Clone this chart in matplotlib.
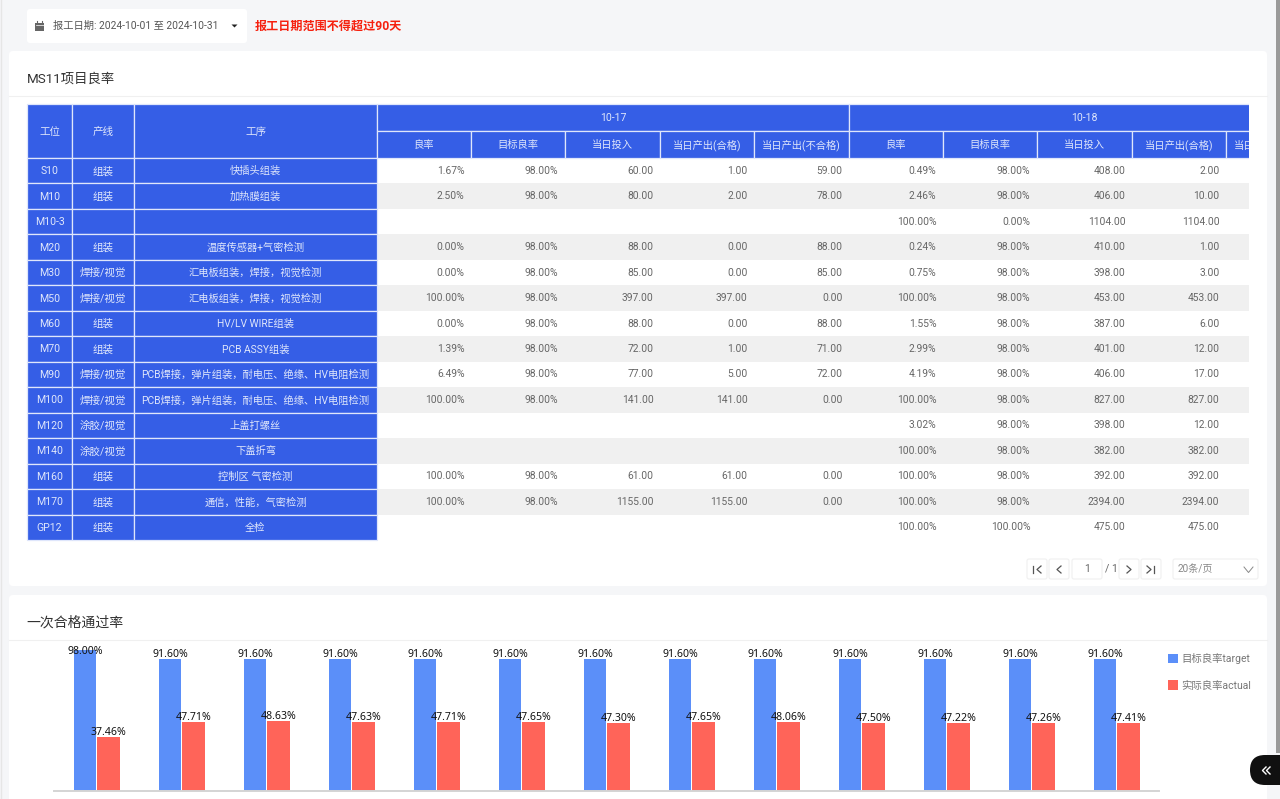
import matplotlib
matplotlib.use('Agg')
import matplotlib.pyplot as plt
from matplotlib.patches import Rectangle, FancyBboxPatch, Polygon
import numpy as np

plt.rcParams['font.family'] = ['Roboto', 'Noto Sans CJK SC', 'DejaVu Sans']

# 表格数据
gongwei = ['S10', 'M10', 'M10-3', 'M20', 'M30', 'M50', 'M60', 'M70', 'M90', 'M100', 'M120', 'M140', 'M160', 'M170', 'GP12']
chanxian = ['组装', '组装', '', '组装', '焊接/视觉', '焊接/视觉', '组装', '组装', '焊接/视觉', '焊接/视觉', '涂胶/视觉', '涂胶/视觉', '组装', '组装', '组装']
gongxu = ['快插头组装', '加热膜组装', '', '温度传感器+气密检测', '汇电板组装，焊接，视觉检测', '汇电板组装，焊接，视觉检测',
          'HV/LV WIRE组装', 'PCB ASSY组装', 'PCB焊接，弹片组装，耐电压、绝缘、HV电阻检测', 'PCB焊接，弹片组装，耐电压、绝缘、HV电阻检测',
          '上盖打螺丝', '下盖折弯', '控制区 气密检测', '通信，性能，气密检测', '全检']
sub_headers = ['良率', '目标良率', '当日投入', '当日产出(合格)', '当日产出(不合格)']

# 10-17
lv_17 = ['1.67%', '2.50%', '', '0.00%', '0.00%', '100.00%', '0.00%', '1.39%', '6.49%', '100.00%', '', '', '100.00%', '100.00%', '']
mb_17 = ['98.00%', '98.00%', '', '98.00%', '98.00%', '98.00%', '98.00%', '98.00%', '98.00%', '98.00%', '', '', '98.00%', '98.00%', '']
tr_17 = ['60.00', '80.00', '', '88.00', '85.00', '397.00', '88.00', '72.00', '77.00', '141.00', '', '', '61.00', '1155.00', '']
hg_17 = ['1.00', '2.00', '', '0.00', '0.00', '397.00', '0.00', '1.00', '5.00', '141.00', '', '', '61.00', '1155.00', '']
bhg_17 = ['59.00', '78.00', '', '88.00', '85.00', '0.00', '88.00', '71.00', '72.00', '0.00', '', '', '0.00', '0.00', '']
# 10-18
lv_18 = ['0.49%', '2.46%', '100.00%', '0.24%', '0.75%', '100.00%', '1.55%', '2.99%', '4.19%', '100.00%', '3.02%', '100.00%', '100.00%', '100.00%', '100.00%']
mb_18 = ['98.00%', '98.00%', '0.00%', '98.00%', '98.00%', '98.00%', '98.00%', '98.00%', '98.00%', '98.00%', '98.00%', '98.00%', '98.00%', '98.00%', '100.00%']
tr_18 = ['408.00', '406.00', '1104.00', '410.00', '398.00', '453.00', '387.00', '401.00', '406.00', '827.00', '398.00', '382.00', '392.00', '2394.00', '475.00']
hg_18 = ['2.00', '10.00', '1104.00', '1.00', '3.00', '453.00', '6.00', '12.00', '17.00', '827.00', '12.00', '382.00', '392.00', '2394.00', '475.00']

# 柱状图数据
target = [98.00, 91.60, 91.60, 91.60, 91.60, 91.60, 91.60, 91.60, 91.60, 91.60, 91.60, 91.60, 91.60]
actual = [37.46, 47.71, 48.63, 47.63, 47.71, 47.65, 47.30, 47.65, 48.06, 47.50, 47.22, 47.26, 47.41]

BLUE = '#355ee6'
EDGE = '#dfe6fb'
TXT = '#666666'

fig = plt.figure(figsize=(12.8, 7.99), dpi=100, facecolor='#f5f6f8')
pg = fig.add_axes([0, 0, 1, 1])
pg.set_xlim(0, 1280)
pg.set_ylim(799, 0)
pg.axis('off')


def card(x0, y0, x1, y1, r=4):
    pg.add_patch(FancyBboxPatch((x0 + r, y0 + r), x1 - x0 - 2 * r, y1 - y0 - 2 * r,
                                boxstyle=f'round,pad={r},rounding_size={r}', fc='white', ec='none'))


def cell(x0, y0, x1, y1, txt, fs=7.6):
    pg.add_patch(Rectangle((x0, y0), x1 - x0, y1 - y0, fc=BLUE, ec=EDGE, lw=0.9))
    pg.text((x0 + x1) / 2, (y0 + y1) / 2 + 0.5, txt, color=EDGE, fontsize=fs, ha='center', va='center')


def btn(x0, x1):
    pg.add_patch(FancyBboxPatch((x0 + 2, 561), x1 - x0 - 4, 16, boxstyle='round,pad=2,rounding_size=2',
                                fc='white', ec='#f0f0f0', lw=0.8))


# 页面卡片
card(9, 51, 1267, 586)
card(9, 595, 1267, 805)
card(27, 9, 247, 43, 3)
pg.plot([9, 1267], [95.5, 95.5], color='#f0f0f0', lw=0.8)
pg.plot([9, 1267], [639.5, 639.5], color='#f0f0f0', lw=0.8)
pg.plot([0.5, 0.5], [0, 799], color='#e6e6e6', lw=1)

# 日期选择
pg.add_patch(Rectangle((35, 23), 9, 8, fc='#666666', ec='none'))
pg.plot([37, 37], [21, 23], color='#666666', lw=0.8)
pg.plot([42, 42], [21, 23], color='#666666', lw=0.8)
pg.plot([35.5, 43.5], [25, 25], color='white', lw=0.5)
pg.text(53, 26, '报工日期: 2024-10-01 至 2024-10-31', fontsize=7.4, color='#555555', va='center')
pg.add_patch(Polygon([[231.5, 24.5], [237.5, 24.5], [234.5, 27.5]], fc='#222222', ec='none'))
pg.text(255, 26, '报工日期范围不得超过90天', fontsize=8.7, color='#f5210f', va='center', fontweight='bold')

pg.text(27, 79, 'MS11项目良率', fontsize=9.6, color='#333333', va='center')
pg.text(26, 622.5, '一次合格通过率', fontsize=10, color='#333333', va='center')

# 表格
col_x = [27, 72, 134, 377, 471, 565, 660, 754, 849, 943, 1037, 1132, 1226, 1320]
rows_y = np.linspace(158, 540, len(gongwei) + 1)
clip = Rectangle((0, 100), 1249, 450, transform=pg.transData)

cell(col_x[0], 104, col_x[1], 158, '工位')
cell(col_x[1], 104, col_x[2], 158, '产线')
cell(col_x[2], 104, col_x[3], 158, '工序')
cell(col_x[3], 104, col_x[8], 131, '10-17')
p = Rectangle((col_x[8], 104), col_x[13] - col_x[8], 27, fc=BLUE, ec=EDGE, lw=0.9)
pg.add_patch(p)
p.set_clip_path(clip)
pg.text((col_x[8] + col_x[13]) / 2, 118, '10-18', color=EDGE, fontsize=7.6, ha='center', va='center')
for i in range(10):
    p = Rectangle((col_x[3 + i], 131), col_x[4 + i] - col_x[3 + i], 27, fc=BLUE, ec=EDGE, lw=0.9)
    pg.add_patch(p)
    p.set_clip_path(clip)
    t = pg.text((col_x[3 + i] + col_x[4 + i]) / 2, 145, sub_headers[i % 5], color=EDGE, fontsize=7.4,
                ha='center', va='center', clip_on=True)
    t.set_clip_path(clip)

value_cols = [lv_17, mb_17, tr_17, hg_17, bhg_17, lv_18, mb_18, tr_18, hg_18]
for r in range(len(gongwei)):
    y0, y1 = rows_y[r], rows_y[r + 1]
    if r % 2 == 1:
        pg.add_patch(Rectangle((377, y0), 1249 - 377, y1 - y0, fc='#f0f0f0', ec='none'))
    ym = (y0 + y1) / 2
    cell(col_x[0], y0, col_x[1], y1, gongwei[r])
    cell(col_x[1], y0, col_x[2], y1, chanxian[r])
    cell(col_x[2], y0, col_x[3], y1, gongxu[r], fs=7.4)
    for c, vals in enumerate(value_cols):
        pg.text(col_x[4 + c] - 6.5, ym, vals[r], fontsize=7.4, color=TXT, ha='right', va='center')

# 分页
btn(1027, 1047)
btn(1049, 1069)
btn(1072, 1102)
btn(1119, 1139)
btn(1141, 1161)
btn(1173, 1258)
pg.text(1087, 569, '1', fontsize=7.6, color=TXT, ha='center', va='center')
pg.text(1105, 569, '/ 1', fontsize=7.6, color=TXT, va='center')
for xs in ([1033, 1033], [1041, 1037, 1041], [1061, 1057, 1061], [1127, 1131, 1127], [1147, 1151, 1147], [1154, 1154]):
    ys = [566, 573] if len(xs) == 2 else [566, 569.5, 573]
    pg.plot(xs, ys, color='#555555', lw=0.9)
pg.text(1178, 569, '20条/页', fontsize=7.2, color='#888888', va='center')
pg.plot([1244, 1248.5, 1253], [567, 572.5, 567], color='#888888', lw=0.7)

# 右侧滚动条和按钮
pg.add_patch(Rectangle((1276, 0), 4, 753, fc='#9a9a9a', ec='none'))
pg.add_patch(FancyBboxPatch((1265, 755), 40, 30, boxstyle='round,pad=0,rounding_size=15', fc='#101010', ec='none'))
pg.add_patch(FancyBboxPatch((1250, 755), 60, 30, boxstyle='round,pad=0,rounding_size=15', fc='#101010', ec='none'))
pg.plot([1266, 1262.5, 1266], [767, 770.5, 774], color='white', lw=1)
pg.plot([1270, 1266.5, 1270], [767, 770.5, 774], color='white', lw=1)

# 柱状图
ax = fig.add_axes([54 / 1280, (799 - 791) / 799, 1105 / 1280, 144 / 799])
ax.patch.set_alpha(0)
x = np.arange(len(target))
w = 0.265
b1 = ax.bar(x - w / 2 - 0.004, target, w, color='#5b8ff9', label='目标良率target')
b2 = ax.bar(x + w / 2 + 0.008, actual, w + 0.01, color='#ff6459', label='实际良率actual')
ax.set_xlim(-0.5, len(target) - 0.5)
ax.set_ylim(0, 100)
ax.set_xticks([])
ax.set_yticks([])
for s in ['top', 'left', 'right']:
    ax.spines[s].set_visible(False)
ax.spines['bottom'].set_color('#d4d4d4')
ax.spines['bottom'].set_linewidth(1.4)
for bars, vals in [(b1, target), (b2, actual)]:
    for r, v in zip(bars, vals):
        off = -7 if v > 95 else -1
        ax.annotate(f'{v:.2f}%', (r.get_x() + r.get_width() / 2, v), xytext=(0, off), textcoords='offset pixels',
                    ha='center', va='bottom', fontsize=7.6, color='#111111', annotation_clip=False,
                    family=['Noto Sans', 'DejaVu Sans'])
leg = ax.legend(loc='upper left', bbox_to_anchor=(1163 / 1280, 1 - 648 / 799), bbox_transform=fig.transFigure,
                frameon=False, fontsize=7.5, labelcolor='#777777', handlelength=0.95, handleheight=1.0,
                handletextpad=0.35, labelspacing=1.55, borderpad=0.5, borderaxespad=0)

fig.savefig('out.png', dpi=100, facecolor=fig.get_facecolor())
